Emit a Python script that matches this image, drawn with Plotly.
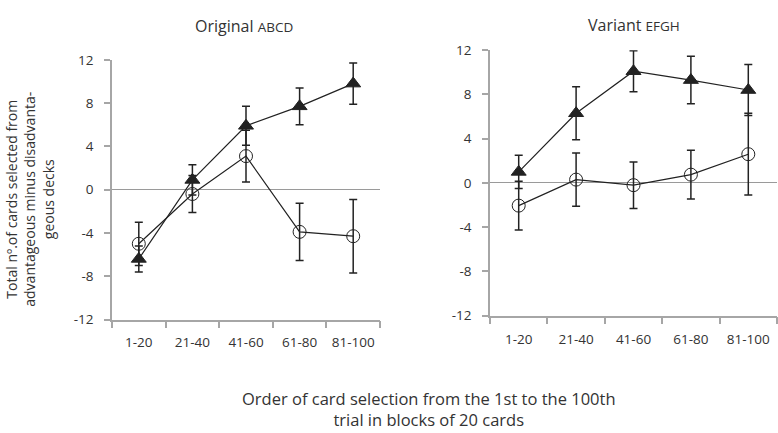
import plotly.graph_objects as go

categories = ["1-20", "21-40", "41-60", "61-80", "81-100"]

# Original ABCD
orig_tri = [-6.4, 0.9, 5.9, 7.7, 9.8]
orig_tri_err = [1.2, 1.4, 1.8, 1.7, 1.9]
orig_circ = [-5.0, -0.4, 3.1, -3.9, -4.3]
orig_circ_err = [2.0, 1.7, 2.4, 2.65, 3.4]

# Variant EFGH
var_tri = [1.0, 6.3, 10.1, 9.3, 8.4]
var_tri_err = [1.5, 2.4, 1.85, 2.15, 2.3]
var_circ = [-2.05, 0.3, -0.2, 0.75, 2.6]
var_circ_err = [2.2, 2.4, 2.1, 2.2, 3.7]

y_ticks = [-12, -8, -4, 0, 4, 8, 12]
y_ticktext = ["-12", "-8", "-4", "0", "4", "8", "12"]

W, H = 778, 433
FONT = "Open Sans"
DARK = "#222222"
AXIS = "#a6a6a6"
TXT = "#333333"

fig = go.Figure()

def add_series(x, y, err, xa, ya, symbol, size):
    fig.add_trace(go.Scatter(
        x=x, y=y, xaxis=xa, yaxis=ya, mode="lines+markers",
        line=dict(color=DARK, width=1.2),
        marker=dict(symbol=symbol, size=size, color=DARK,
                    line=dict(color=DARK, width=1)),
        error_y=dict(type="data", array=err, visible=True,
                     color=DARK, thickness=1.5, width=4),
        showlegend=False, cliponaxis=False,
    ))

xs = list(range(len(categories)))
add_series(xs, orig_circ, orig_circ_err, "x", "y", "circle-open", 13)
add_series(xs, orig_tri, orig_tri_err, "x", "y", "triangle-up", 13)
add_series(xs, var_circ, var_circ_err, "x2", "y2", "circle-open", 13)
add_series(xs, var_tri, var_tri_err, "x2", "y2", "triangle-up", 13)

bounds = [i - 0.5 for i in range(len(categories) + 1)]

def xaxis_cfg(domain, anchor):
    return dict(
        domain=domain, anchor=anchor, range=[-0.5, len(categories) - 0.5],
        tickmode="array", tickvals=xs, ticktext=categories,
        ticks="", showgrid=False, zeroline=False,
        showline=True, linecolor=AXIS, linewidth=1.5,
        tickfont=dict(family=FONT, size=13.5, color=TXT),
        ticklabelstandoff=10,
        minor=dict(tickmode="array", tickvals=bounds, ticks="outside",
                   ticklen=7, tickcolor=AXIS, tickwidth=1.5),
    )

def yaxis_cfg(domain, anchor):
    return dict(
        domain=domain, anchor=anchor, range=[-12, 12],
        tickmode="array", tickvals=y_ticks, ticktext=y_ticktext,
        ticks="outside", ticklen=6, tickcolor=AXIS, tickwidth=1.5,
        showgrid=False, zeroline=True, zerolinecolor="#9a9a9a",
        zerolinewidth=1.2, showline=True, linecolor=AXIS, linewidth=1.5,
        tickfont=dict(family=FONT, size=13.5, color=TXT),
        ticklabelstandoff=8,
    )

fig.update_layout(
    width=W, height=H,
    margin=dict(l=0, r=0, t=0, b=0),
    paper_bgcolor="white", plot_bgcolor="white",
    xaxis=xaxis_cfg([112 / W, 380 / W], "y"),
    yaxis=yaxis_cfg([(H - 324) / H, (H - 53) / H], "x"),
    xaxis2=xaxis_cfg([490 / W, 777 / W], "y2"),
    yaxis2=yaxis_cfg([(H - 320) / H, (H - 43) / H], "x2"),
    font=dict(family=FONT, color=TXT),
)

ann = [
    dict(text="Original <span style='font-size:13.5px'>ABCD</span>",
         x=244 / W, y=1 - 18 / H, font=dict(size=16)),
    dict(text="Variant <span style='font-size:13.5px'>EFGH</span>",
         x=634 / W, y=1 - 17 / H, font=dict(size=16)),
    dict(text="Order of card selection from the 1st to the 100th<br>trial in blocks of 20 cards",
         x=429 / W, y=1 - 417 / H, font=dict(size=16.5)),
    dict(text="Total nº.of cards selected from<br>advantageous minus disadvanta-<br>geous decks",
         x=30 / W, y=1 - 199 / H, textangle=-90, font=dict(size=14)),
]
for a in ann:
    a.update(xref="paper", yref="paper", showarrow=False,
             xanchor="center", yanchor="middle")
    a["font"].update(family=FONT, color=TXT)
fig.update_layout(annotations=ann)

fig.write_html("out.html", config={"displayModeBar": False})

# remove default page margin so the figure sits at the window origin
with open("out.html", "r", encoding="utf-8") as f:
    html = f.read()
html = html.replace("<head>", "<head><style>html,body{margin:0;padding:0;overflow:hidden;}</style>", 1)
with open("out.html", "w", encoding="utf-8") as f:
    f.write(html)
